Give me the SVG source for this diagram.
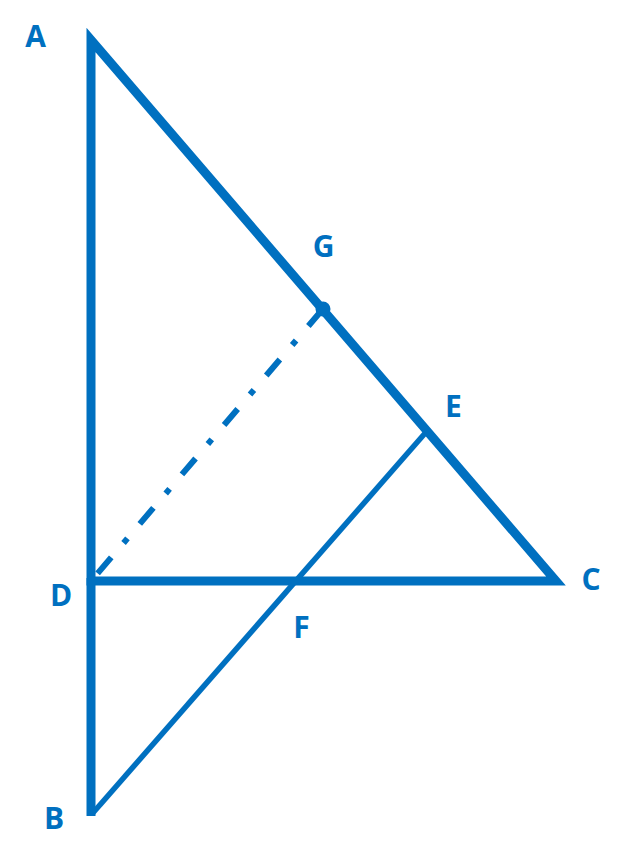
<svg xmlns="http://www.w3.org/2000/svg" width="624" height="863" viewBox="0 0 624 863">
<style>
.ln{fill:none;stroke:#0070C0;stroke-linecap:butt}
.lbl{font-family:"Open Sans","Liberation Sans",sans-serif;font-weight:700;font-size:30px;fill:#0070C0;text-anchor:middle}
</style>
<rect width="624" height="863" fill="#ffffff"/>
<g id="connectors">
<polygon id="triangle-ADC" class="ln" points="91,40 91,581 556,581" stroke-width="9" stroke-linejoin="miter"/>
<line id="DB" class="ln" x1="91" y1="578" x2="91" y2="816" stroke-width="9"/>
<line id="BE" class="ln" x1="92" y1="814" x2="427" y2="431" stroke-width="5.5"/>
<line id="GD" class="ln" x1="322" y1="310" x2="92" y2="580" stroke-width="6" stroke-dasharray="21 19 6 19"/>
<circle id="G-point" cx="323" cy="309" r="7.5" fill="#0070C0"/>
</g>
<g id="labels">
<g id="A"><text class="lbl" x="35.5" y="47">A</text></g>
<g id="G"><text class="lbl" x="323.5" y="257">G</text></g>
<g id="E"><text class="lbl" x="453.5" y="417">E</text></g>
<g id="C"><text class="lbl" x="591" y="590">C</text></g>
<g id="D"><text class="lbl" x="61" y="606">D</text></g>
<g id="F"><text class="lbl" x="301.5" y="638">F</text></g>
<g id="B"><text class="lbl" x="54" y="829">B</text></g>
</g>
</svg>
